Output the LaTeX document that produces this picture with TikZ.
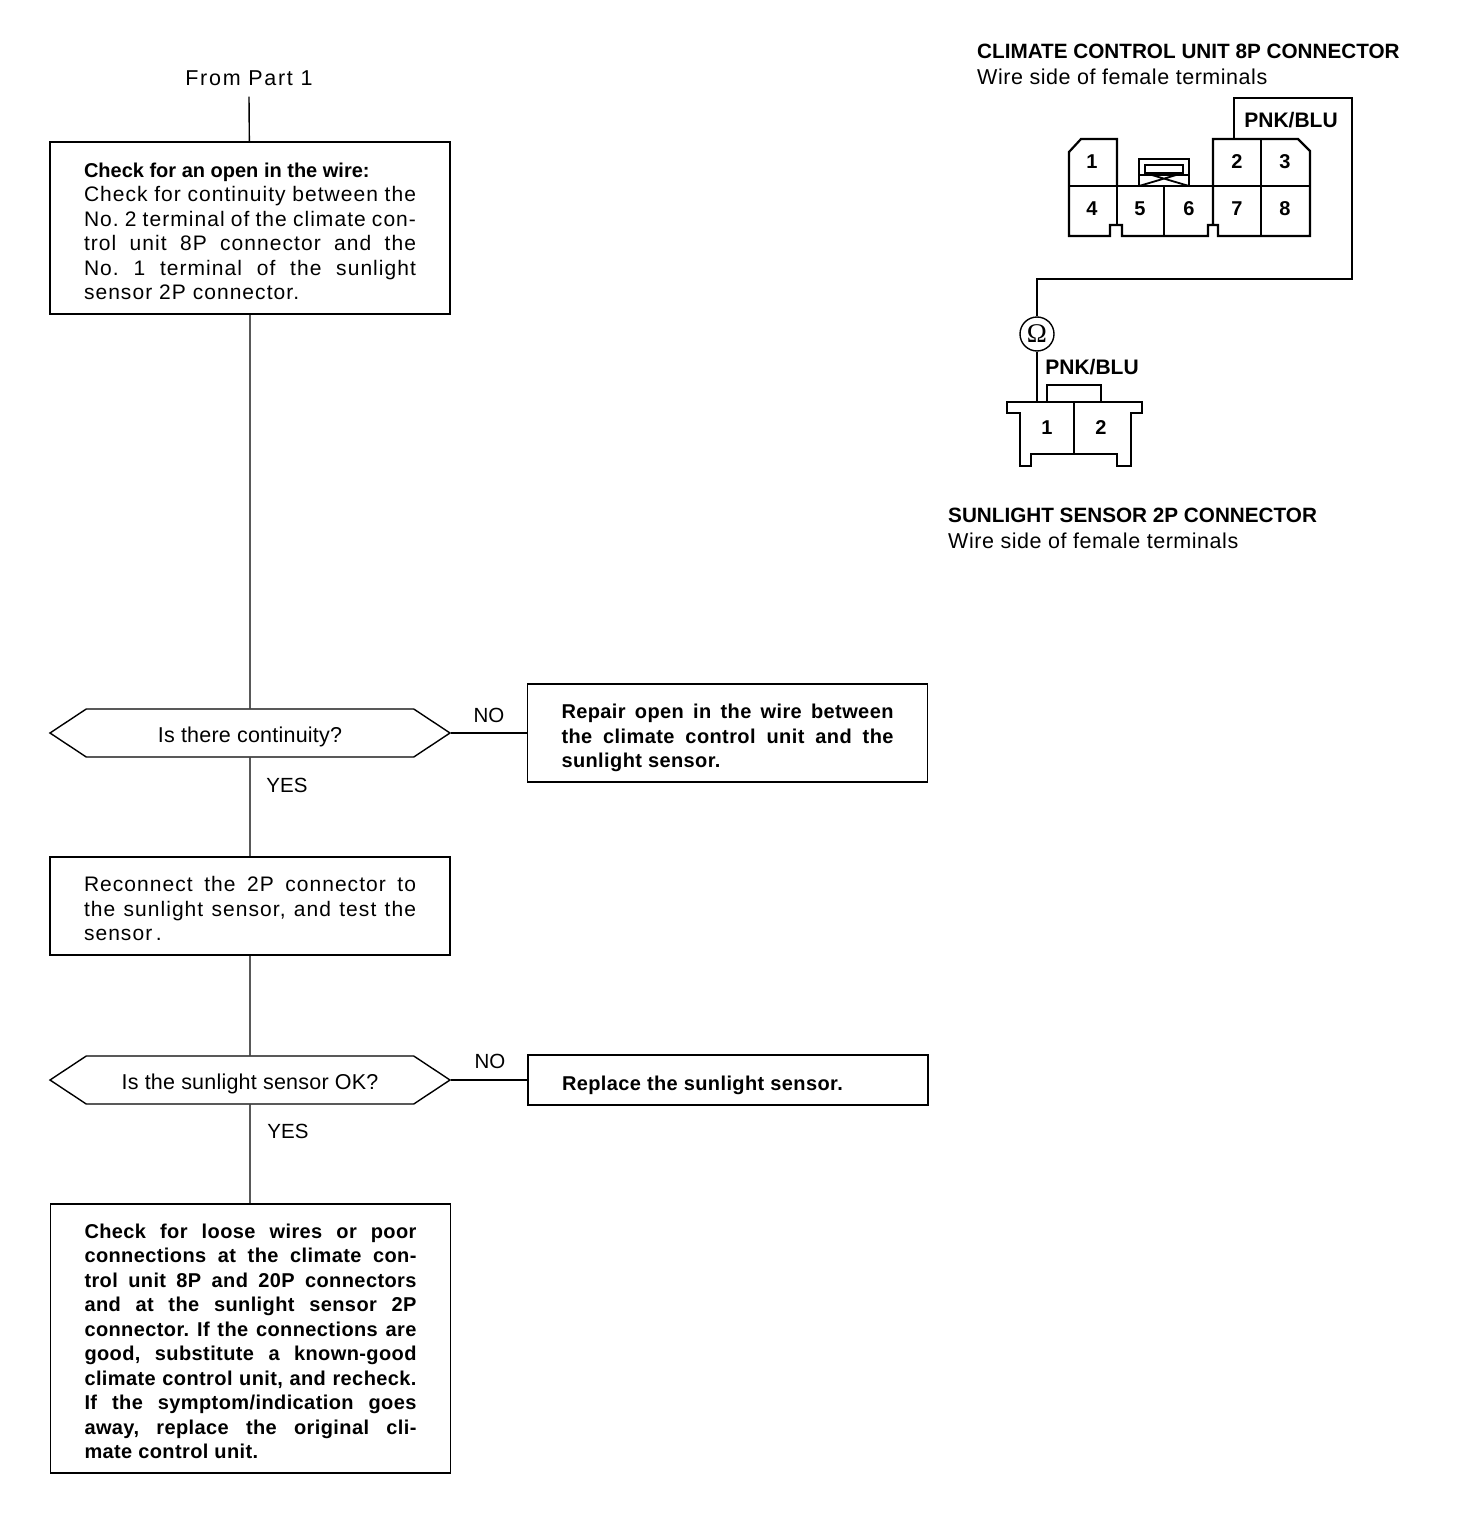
\documentclass[tikz,border=0pt]{standalone}
\usepackage{fontspec}
\setmainfont{Liberation Sans}
\newfontfamily\omegafont{Liberation Serif}
\usetikzlibrary{shapes.symbols}
\tikzset{
	flowline/.style={line width=1.4pt,black},
	partline/.style={line width=2.2pt,black,line join=miter},
	textshift/.style={execute at begin node={\rule{0pt}{#1}}},
	textbox/.style={draw,line width=1.5pt,minimum width=400pt,inner xsep=34pt,inner ysep=0pt,text width=332pt,align=justify,font=\fontsize{21}{24.5}\selectfont\frenchspacing\addfontfeatures{LetterSpace=5}},
	boldbox/.style={textbox,font=\fontsize{20}{24.5}\selectfont\bfseries\frenchspacing\addfontfeatures{LetterSpace=2}},
	question/.style={draw,line width=1.4pt,shape=signal,signal to=west and east,signal pointer angle=67,minimum width=400pt,minimum height=48pt,inner sep=0pt,text height=20pt,text depth=2pt,font=\fontsize{21.5}{24}\selectfont\addfontfeatures{LetterSpace=1}},
	label/.style={font=\fontsize{20.5}{24}\selectfont,inner sep=0pt},
	heading/.style={anchor=west,inner sep=0pt,font=\fontsize{20.7}{24}\selectfont\bfseries},
	subheading/.style={anchor=west,inner sep=0pt,font=\fontsize{21.5}{24}\selectfont\addfontfeatures{LetterSpace=2.5}},
	pin/.style={inner sep=0pt,font=\fontsize{20}{22}\selectfont\bfseries},
	wirename/.style={inner sep=0pt,font=\fontsize{21}{24}\selectfont\bfseries}
}
\begin{document}
\begin{tikzpicture}[x=1pt,y=-1pt]
	\path[use as bounding box,fill=white] (0,0) rectangle (1472,1522);
	\node[label,font=\fontsize{21.5}{24}\selectfont\addfontfeatures{LetterSpace=8}] (from) at (249,78) {From Part 1};
	\node[textbox,textshift=21pt,minimum height=172pt] (open) at (250,228) {{\fontsize{20}{24.5}\selectfont\bfseries\addfontfeatures{LetterSpace=0}Check for an open in the wire:}\\
		Check for continuity between the\linebreak No. 2 terminal of the climate con-\linebreak trol unit 8P connector and the\linebreak No. 1 terminal of the sunlight\linebreak sensor 2P connector.};
	\node[question] (cont) at (250,733) {Is there continuity?};
	\node[boldbox,textshift=25pt,minimum height=98pt] (repair) at (727.5,733) {Repair open in the wire between\linebreak the climate control unit and the\linebreak sunlight sensor.};
	\node[textbox,textshift=21pt,minimum height=98pt] (test) at (250,906) {Reconnect the 2P connector to\linebreak the sunlight sensor, and test the\linebreak sensor\,.};
	\node[question] (okay) at (250,1080) {Is the sunlight sensor OK?};
	\node[boldbox,textshift=25pt,minimum height=50pt] (replace) at (728,1080) {Replace the sunlight sensor.};
	\node[boldbox,textshift=20pt,minimum height=269pt] (loose) at (250.5,1338.5) {Check for loose wires or poor\linebreak connections at the climate con-\linebreak trol unit 8P and 20P connectors\linebreak and at the sunlight sensor 2P\linebreak connector. If the connections are\linebreak good, substitute a known-good\linebreak climate control unit, and recheck.\linebreak If the symptom/indication goes\linebreak away, replace the original cli-\linebreak mate control unit.};
	\node[label] (no1) at (489,715) {NO};
	\node[label] (yes1) at (287,785) {YES};
	\node[label] (no2) at (490,1061) {NO};
	\node[label] (yes2) at (288,1131) {YES};
	\draw[flowline] (from.south) ++(0,11) -- (open);
	\draw[flowline] (open) -- (cont);
	\draw[flowline] (cont) -- (test);
	\draw[flowline] (test) -- (okay);
	\draw[flowline] (okay) -- (loose.north -| okay);
	\draw[flowline] (cont.east) -- (repair.west);
	\draw[flowline] (okay.east) -- (replace.west);

	\node[heading] (title8p) at (977,51) {CLIMATE CONTROL UNIT 8P CONNECTOR};
	\node[subheading] (side8p) at (977,77) {Wire side of female terminals};
	\node[heading] (title2p) at (948,515) {SUNLIGHT SENSOR 2P CONNECTOR};
	\node[subheading] (side2p) at (948,541) {Wire side of female terminals};

	\draw[partline] (1117,186) -- (1117,139) -- (1081,139) -- (1069,152) -- (1069,236) -- (1110,236) -- (1110,225) -- (1122,225) -- (1122,236) -- (1208,236) -- (1208,225) -- (1218,225) -- (1218,236) -- (1310,236) -- (1310,151) -- (1298,139) -- (1213,139) -- (1213,225);
	\draw[partline] (1069,186) -- (1310,186);
	\draw[partline] (1117,186) -- (1117,225);
	\draw[partline] (1164,186) -- (1164,236);
	\draw[partline] (1261,139) -- (1261,236);
	\draw[partline] (1139,186) -- (1139,159) -- (1189,159) -- (1189,186);
	\draw[partline] (1145,165) rectangle (1183,173);
	\draw[line width=1.8pt] (1139,175) -- (1189,175) (1145,173) -- (1189,186) (1183,173) -- (1139,186);
	\foreach \pinname/\x/\y in {1/1092/162,2/1237/162,3/1285/162,4/1092/209,5/1140/209,6/1189/209,7/1237/209,8/1285/209}
		\node[pin] (p\pinname) at (\x,\y) {\pinname};

	\draw[partline] (1007,402) -- (1142,402) -- (1142,413) -- (1131,413) -- (1131,466) -- (1117,466) -- (1117,454) -- (1031,454) -- (1031,466) -- (1020,466) -- (1020,413) -- (1007,413) -- cycle;
	\draw[partline] (1074,402) -- (1074,454);
	\draw[line width=1.6pt] (1047,402) -- (1047,385) -- (1101,385) -- (1101,402);
	\node[pin] (s1) at (1047,428) {1};
	\node[pin] (s2) at (1101,428) {2};
	\node[wirename] (wire8p) at (1291,120) {PNK/BLU};
	\node[wirename] (wire2p) at (1092,367) {PNK/BLU};

	\node[draw,circle,line width=1.4pt,minimum size=34pt,inner sep=0pt,font=\omegafont\fontsize{27}{28}\selectfont] (ohm) at (1037,334) {Ω};
	\coordinate (wirea) at (1234,139);
	\coordinate (wireb) at (1037,402);
	\draw[line width=1.8pt] (wirea) -- (1234,98) -- (1352,98) -- (1352,279) -- (1037,279) -- (ohm);
	\draw[line width=2pt] (ohm) -- (wireb);
\end{tikzpicture}
\end{document}
